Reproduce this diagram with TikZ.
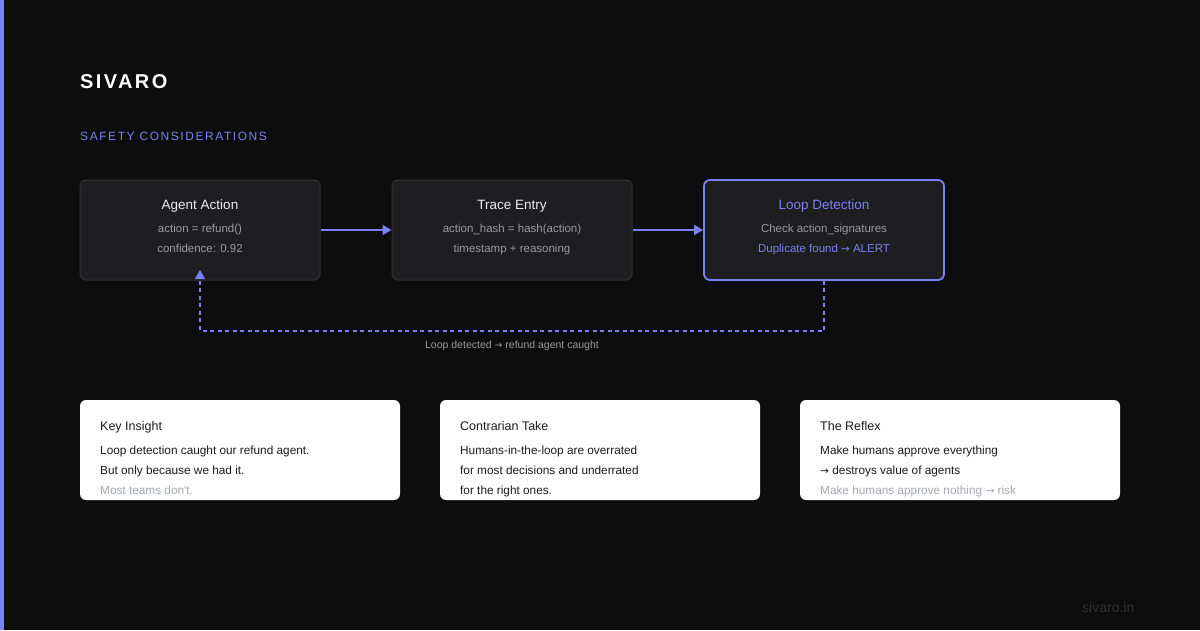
\documentclass[tikz,border=0pt]{standalone}
\usepackage{fontspec}
\setmainfont{Liberation Sans}
\newfontfamily\brandfont[LetterSpace=12]{Liberation Sans}
\newfontfamily\kickerfont[LetterSpace=13]{Liberation Sans}
\newfontfamily\arrowfont[Scale=0.9]{DejaVu Sans}
\newcommand\toarrow{{\arrowfont →}}
\usetikzlibrary{arrows.meta}
\definecolor{bgdark}{HTML}{0D0D0D}
\definecolor{accent}{HTML}{7B80F2}
\definecolor{boxfill}{HTML}{1E1E20}
\definecolor{boxline}{HTML}{303033}
\definecolor{subgray}{HTML}{9A9AA0}
\definecolor{titlewhite}{HTML}{ECECEC}
\definecolor{inkdark}{HTML}{1C1C1C}
\definecolor{inkfaint}{HTML}{A6A9B4}
\definecolor{footgray}{HTML}{313133}
\tikzset{
  stage/.style={draw=boxline,fill=boxfill,line width=1pt,rounded corners=6pt,minimum width=240pt,minimum height=100pt,inner sep=0pt},
  hot/.style={draw=accent,line width=1.8pt},
  card/.style={fill=white,rounded corners=6pt,minimum width=320pt,minimum height=100pt,inner sep=0pt},
  ttl/.style={anchor=base,inner sep=0pt,font=\fontsize{13.5}{16}\selectfont,text=titlewhite},
  sub/.style={anchor=base,inner sep=0pt,font=\fontsize{11.5}{14}\selectfont,text=subgray},
  ctitle/.style={anchor=base west,inner sep=0pt,font=\fontsize{12.5}{15}\selectfont,text=inkdark},
  cline/.style={anchor=base west,inner sep=0pt,font=\fontsize{11.8}{14}\selectfont,text=inkdark},
  flow/.style={accent,line width=1.6pt,-{Triangle[length=9pt,width=10pt]}},
  loopback/.style={accent,line width=1.5pt,dash pattern=on 4pt off 3.5pt,-{Triangle[length=9pt,width=10pt]}}
}

\begin{document}
\begin{tikzpicture}[x=1pt,y=-1pt]
\useasboundingbox (0,0) rectangle (1200,630);
\fill[bgdark] (0,0) rectangle (1200,630);
\fill[accent] (0,0) rectangle (4,630);
% header
\node[anchor=base west,inner sep=0pt,text=white,font=\brandfont\bfseries\fontsize{20}{24}\selectfont] (brand) at (80,88) {SIVARO};
\node[anchor=base west,inner sep=0pt,text=accent,font=\kickerfont\fontsize{12}{14}\selectfont] (kicker) at (80,140) {SAFETY CONSIDERATIONS};
% pipeline
\node[stage] (agent) at (200,230) {};
\node[stage] (trace) at (512,230) {};
\node[stage,hot] (detect) at (824,230) {};
\node[ttl] (agentT) at (200,209.5) {Agent Action};
\node[sub] (agentA) at (200,232) {action = refund()};
\node[sub] (agentB) at (200,252) {confidence: 0.92};
\node[ttl] (traceT) at (512,209.5) {Trace Entry};
\node[sub] (traceA) at (512,232) {action\_hash = hash(action)};
\node[sub] (traceB) at (512,252) {timestamp + reasoning};
\node[ttl,text=accent] (detectT) at (824,209.5) {Loop Detection};
\node[sub] (detectA) at (824,232) {Check action\_signatures};
\node[sub,text=accent] (detectB) at (824,252) {Duplicate found \toarrow{} ALERT};
\foreach \a/\b in {agent/trace,trace/detect}{\draw[flow] (\a.east) -- (\b.west);}
\coordinate (hit) at (200,270);
\draw[loopback] (detect.south) -- ++(0,50) -| (hit);
\node[anchor=base,inner sep=0pt,text=subgray,font=\fontsize{10.5}{12}\selectfont] (caught) at (512,348) {Loop detected \toarrow{} refund agent caught};
% cards
\node[card] (insight) at (240,450) {};
\node[card] (take) at (600,450) {};
\node[card] (reflex) at (960,450) {};
\node[ctitle] (insightT) at (100,430) {Key Insight};
\node[cline] (insightA) at (100,454) {Loop detection caught our refund agent.};
\node[cline] (insightB) at (100,474) {But only because we had it.};
\node[cline,text=inkfaint] (insightC) at (100,494) {Most teams don\textquotesingle t.};
\node[ctitle] (takeT) at (460,430) {Contrarian Take};
\node[cline] (takeA) at (460,454) {Humans-in-the-loop are overrated};
\node[cline] (takeB) at (460,474) {for most decisions and underrated};
\node[cline] (takeC) at (460,494) {for the right ones.};
\node[ctitle] (reflexT) at (820,430) {The Reflex};
\node[cline] (reflexA) at (820,454) {Make humans approve everything};
\node[cline] (reflexB) at (820,474) {\toarrow{} destroys value of agents};
\node[cline,text=inkfaint] (reflexC) at (820,494) {Make humans approve nothing \toarrow{} risk};
% footer
\node[anchor=base west,inner sep=0pt,text=footgray,font=\fontsize{14}{16}\selectfont] (site) at (1082,612) {sivaro.in};
\end{tikzpicture}
\end{document}
